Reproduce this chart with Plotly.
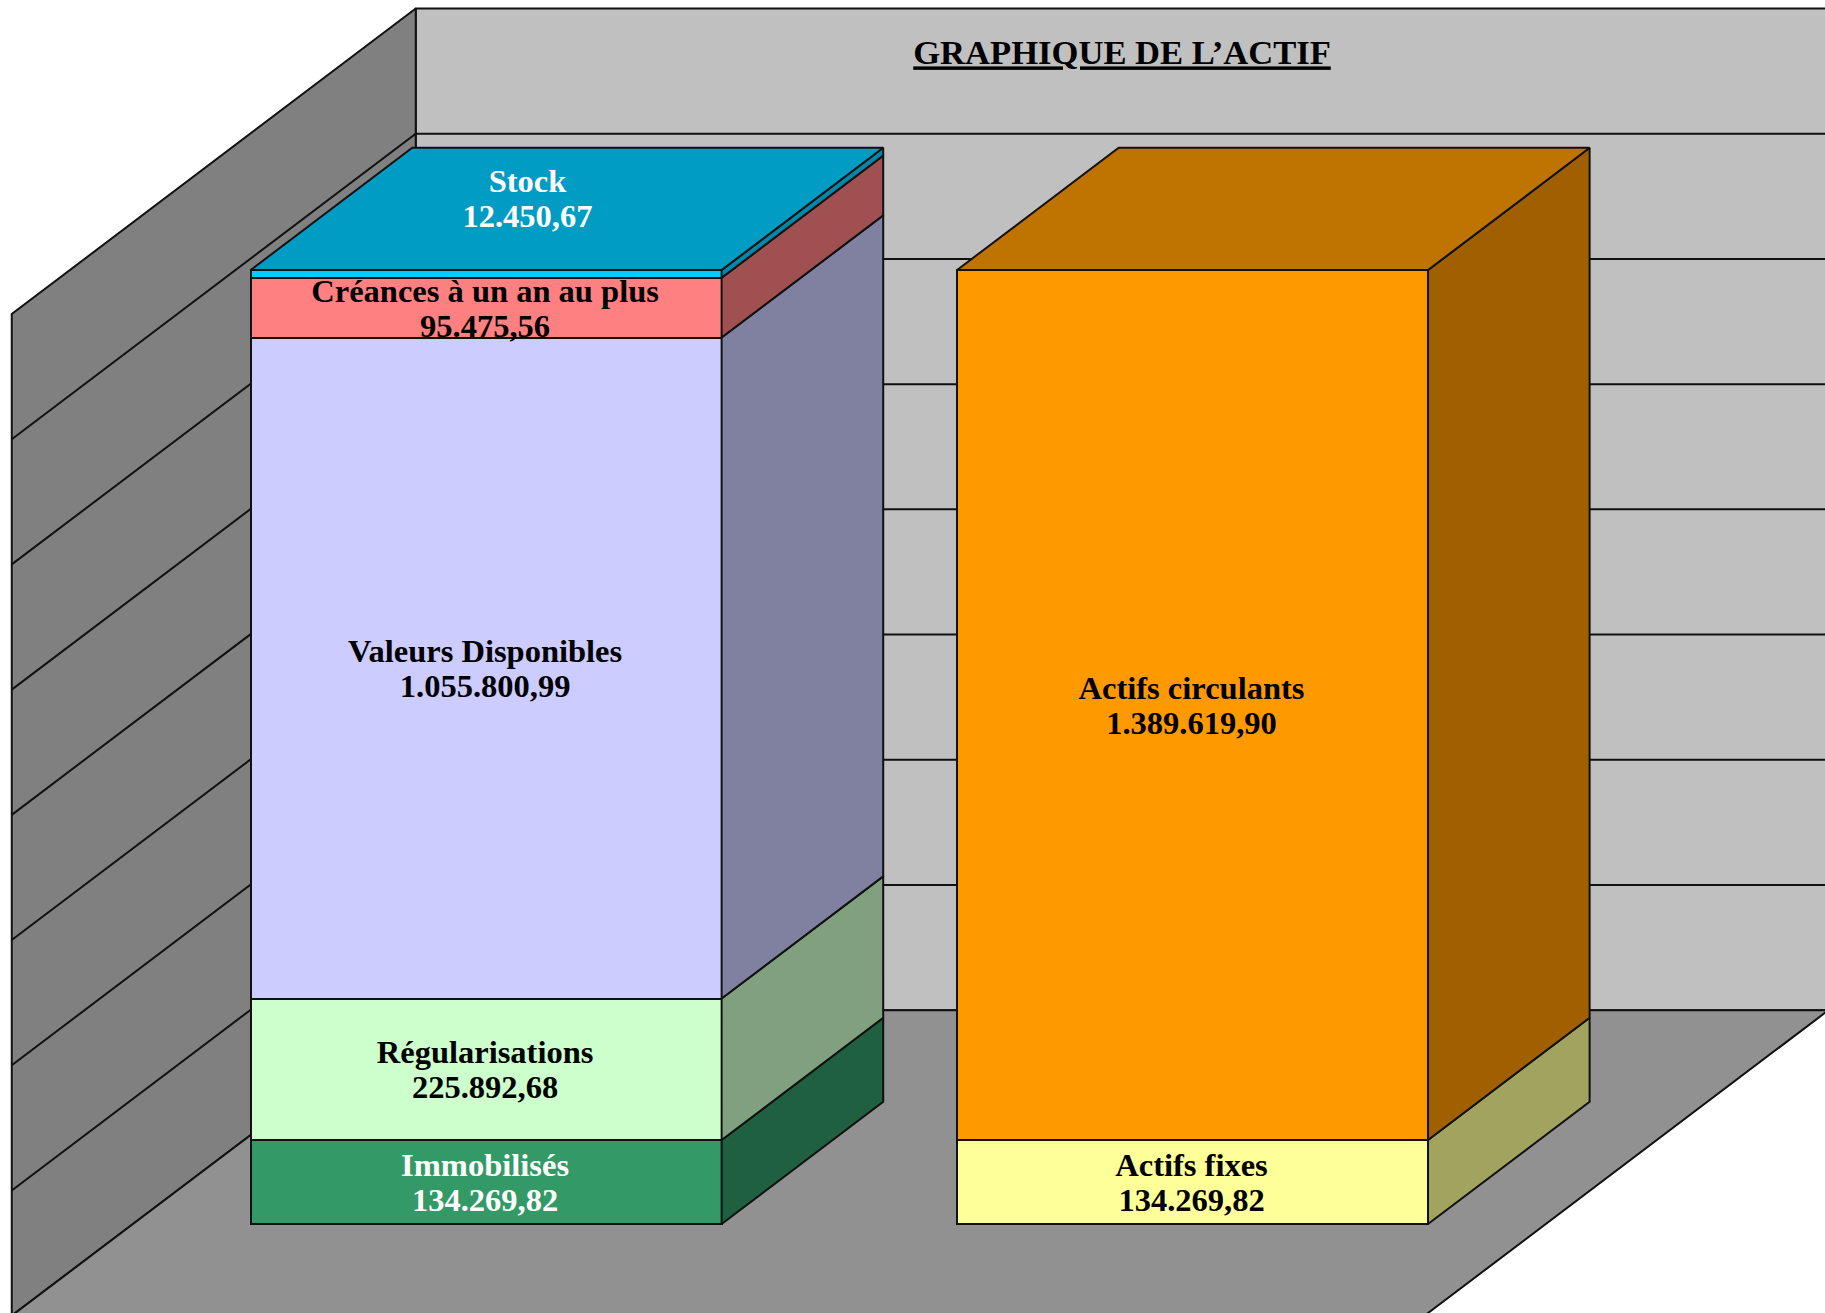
import plotly.graph_objects as go

TITLE = "GRAPHIQUE DE L’ACTIF"
POS_LEFT, POS_RIGHT = 0, 1

names_left = ["Immobilisés", "Régularisations", "Valeurs Disponibles", "Créances à un an au plus", "Stock"]
values_left = [134269.82, 225892.68, 1055800.99, 95475.56, 12450.67]
front_left = ["#339966", "#CCFFCC", "#CCCCFF", "#FF8080", "#00CCFF"]
side_left = ["#1F6040", "#80A080", "#8080A0", "#A05050", "#0088AB"]
text_left = ["white", "black", "black", "black", "white"]
top_left = "#009CC3"

names_right = ["Actifs fixes", "Actifs circulants"]
values_right = [134269.82, 1389619.90]
front_right = ["#FFFF99", "#FF9900"]
side_right = ["#A3A360", "#A06000"]
text_right = ["black", "black"]
top_right = "#BF7300"

GRID_TICKS = [0, 200000, 400000, 600000, 800000, 1000000, 1200000, 1400000, 1600000]

BAR_W = 2 / 3
DX, DY = 0.5719, 488000      # full depth of the 3-D box, in axis units
D0, D1 = 0.3, 0.7            # depth of the bars' front and back planes
X_MIN, X_MAX = -0.5, 1.5
LINE_PITCH = 35 * 1597.4     # spacing of the two label lines, in value units
LABEL_DROP = 5600            # nudge of label block below the segment centre
FONT = "Liberation Serif"
FSIZE = 32.5
EDGE = "#111111"


def proj(x, v, d):
    return x + (d - D0) * DX, v + (d - D0) * DY


def poly(points, fill, width=1.5, color=EDGE, z=1):
    xs, ys = zip(*points)
    return go.Scatter(x=list(xs) + [xs[0]], y=list(ys) + [ys[0]], mode="lines", fill="toself",
                      fillcolor=fill, line=dict(color=color, width=width),
                      hoverinfo="skip", showlegend=False, zorder=z)


fig = go.Figure()
vlo, vhi = GRID_TICKS[0], GRID_TICKS[-1]

# walls and floor
fig.add_trace(poly([proj(X_MIN, vlo, 1), proj(X_MAX, vlo, 1), proj(X_MAX, vhi, 1), proj(X_MIN, vhi, 1)], "#C0C0C0", width=2, z=0))
fig.add_trace(poly([proj(X_MIN, vlo, 0), proj(X_MIN, vlo, 1), proj(X_MIN, vhi, 1), proj(X_MIN, vhi, 0)], "#808080", width=2, z=0))
fig.add_trace(poly([proj(X_MIN, vlo, 0), proj(X_MAX, vlo, 0), proj(X_MAX, vlo, 1), proj(X_MIN, vlo, 1)], "#919191", width=2, z=0))

gx, gy = [], []
for t in GRID_TICKS[1:-1]:
    for p in (proj(X_MIN, t, 0), proj(X_MIN, t, 1), proj(X_MAX, t, 1)):
        gx.append(p[0]); gy.append(p[1])
    gx.append(None); gy.append(None)
fig.add_trace(go.Scatter(x=gx, y=gy, mode="lines", line=dict(color=EDGE, width=2),
                         hoverinfo="skip", showlegend=False, zorder=0))


def add_stack(pos, names, values, fronts, sides, top):
    base = 0
    xl, xr = pos - BAR_W / 2, pos + BAR_W / 2
    for n, v, f, s in zip(names, values, fronts, sides):
        fig.add_trace(go.Bar(x=[pos], y=[v], width=BAR_W, name=n, marker=dict(color=f, line=dict(color=EDGE, width=2)),
                             hoverinfo="skip", showlegend=False, zorder=1))
        fig.add_trace(poly([proj(xr, base, D0), proj(xr, base, D1), proj(xr, base + v, D1), proj(xr, base + v, D0)], s, width=2))
        base += v
    fig.add_trace(poly([proj(xl, base, D0), proj(xr, base, D0), proj(xr, base, D1), proj(xl, base, D1)], top, width=2))


add_stack(POS_LEFT, names_left, values_left, front_left, side_left, top_left)
add_stack(POS_RIGHT, names_right, values_right, front_right, side_right, top_right)


def fr(v):
    return f"{v:,.2f}".replace(",", " ").replace(".", ",").replace(" ", ".")


lx, ly, lt, lc = [], [], [], []


def label(x, v, name, value, color):
    v -= LABEL_DROP
    lx.extend([x, x]); ly.extend([v + LINE_PITCH / 2, v - LINE_PITCH / 2])
    lt.extend([name, fr(value)]); lc.extend([color, color])


base = 0
for n, v, c in zip(names_left[:-1], values_left[:-1], text_left[:-1]):
    label(POS_LEFT - 0.0015, base + v / 2, n, v, c)
    base += v
label(POS_LEFT + 0.0585, base + values_left[-1] + 114500, names_left[-1], values_left[-1], text_left[-1])
base = 0
for n, v, c in zip(names_right, values_right, text_right):
    label(POS_RIGHT - 0.0015, base + v / 2, n, v, c)
    base += v

fig.add_trace(go.Scatter(x=lx, y=ly, text=lt, mode="text", textposition="middle center",
                         textfont=dict(family=FONT, size=FSIZE, color=lc, weight="bold"),
                         hoverinfo="skip", showlegend=False, zorder=2, cliponaxis=False))

fig.update_layout(
    width=1825, height=1313, autosize=False, barmode="stack",
    margin=dict(l=0, r=0, t=0, b=0), paper_bgcolor="white", plot_bgcolor="white",
    xaxis=dict(range=[-0.6882, 1.8953], visible=False, fixedrange=True),
    yaxis=dict(range=[-142170, 1955200], visible=False, fixedrange=True),
    title=dict(text=f"<b><u>{TITLE}</u></b>", x=1122 / 1825, xanchor="center", y=1 - 52.3 / 1313, yanchor="middle",
               font=dict(family=FONT, size=34.6, color="black")),
)
fig.write_html("out.html", config={"displayModeBar": False},
               post_script="document.body.style.margin='0';document.body.style.overflow='hidden';")
